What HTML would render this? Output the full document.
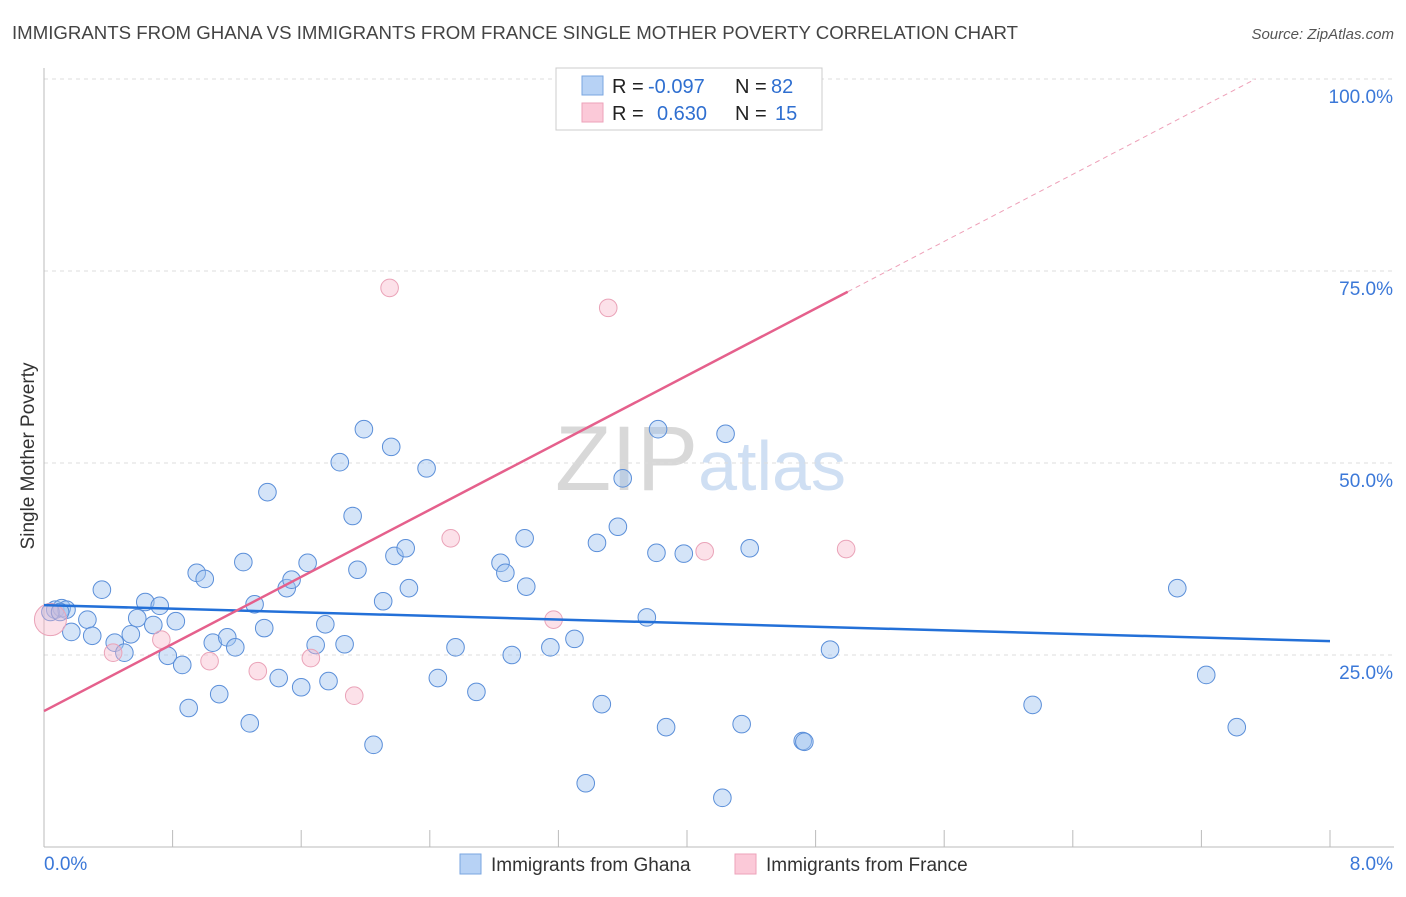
<!DOCTYPE html>
<html><head><meta charset="utf-8"><style>
body{margin:0;background:#fff;font-family:"Liberation Sans",sans-serif}
svg text{font-family:"Liberation Sans",sans-serif}
</style></head><body>
<svg id="c" width="1406" height="892" xmlns="http://www.w3.org/2000/svg">
<text x="12" y="39" font-size="18.5" fill="#444" textLength="1006" lengthAdjust="spacingAndGlyphs">IMMIGRANTS FROM GHANA VS IMMIGRANTS FROM FRANCE SINGLE MOTHER POVERTY CORRELATION CHART</text>
<text x="1394" y="39" font-size="15" fill="#555" font-style="italic" text-anchor="end">Source: ZipAtlas.com</text>
<text transform="translate(34,456) rotate(-90)" font-size="19" fill="#333" text-anchor="middle">Single Mother Poverty</text>
<text x="555" y="490" font-size="92" fill="#d8d8d8" font-family="Liberation Serif">ZIP<tspan fill="#cfdff3" font-family="Liberation Sans" font-size="70">atlas</tspan></text>
<g id="grid"></g><g id="pts"></g><g id="lines"></g>
<g>
<rect x="556" y="68" width="266" height="62" fill="#fff" stroke="#ccc"/>
<rect x="582" y="76" width="21" height="19" fill="#b7d2f5" stroke="#7aa6e0"/>
<rect x="582" y="103" width="21" height="19" fill="#fbc9d8" stroke="#eda2ba"/>
<text x="612" y="93" font-size="20" fill="#222">R = <tspan x="648" fill="#2f6fd0">-0.097</tspan><tspan x="735">N = </tspan><tspan x="771" fill="#2f6fd0">82</tspan></text>
<text x="612" y="120" font-size="20" fill="#222">R = <tspan x="657" fill="#2f6fd0">0.630</tspan><tspan x="735">N = </tspan><tspan x="775" fill="#2f6fd0">15</tspan></text>
</g>
<g>
<rect x="460" y="854" width="21" height="20" fill="#b7d2f5" stroke="#7aa6e0"/>
<text x="491" y="871" font-size="19" fill="#333">Immigrants from Ghana</text>
<rect x="735" y="854" width="21" height="20" fill="#fbc9d8" stroke="#eda2ba"/>
<text x="766" y="871" font-size="19" fill="#333">Immigrants from France</text>
</g>
</svg>
<script>
const xTicks=[0,0.8,1.6,2.4,3.2,4.0,4.8,5.6,6.4,7.2,8.0];
const yTicks=[25,50,75,100];
const yTickLabels=["25.0%","50.0%","75.0%","100.0%"];
const ghanaX=[0.07,0.11,0.14,0.17,0.27,0.30,0.36,0.44,0.50,0.54,0.58,0.63,0.68,0.72,0.77,0.82,0.86,0.90,0.95,1.00,1.05,1.09,1.14,1.19,1.24,1.28,1.31,1.37,1.39,1.46,1.51,1.54,1.60,1.64,1.69,1.75,1.77,1.84,1.87,1.92,1.95,1.99,2.05,2.11,2.16,2.18,2.25,2.27,2.38,2.45,2.56,2.69,2.84,2.87,2.91,2.99,3.00,3.15,3.30,3.37,3.44,3.47,3.57,3.60,3.75,3.81,3.82,3.87,3.98,4.22,4.24,4.34,4.39,4.72,4.73,4.89,6.15,7.05,7.23,7.42,0.04,0.10];
const ghanaY=[30.9,31.1,30.9,28.0,29.6,27.5,33.5,26.6,25.3,27.7,29.8,31.9,28.9,31.4,24.9,29.4,23.7,18.1,35.7,34.9,26.6,19.9,27.3,26.0,37.1,16.1,31.6,28.5,46.2,22.0,33.7,34.8,20.8,37.0,26.3,29.0,21.6,50.1,26.4,43.1,36.1,54.4,13.3,32.0,52.1,37.9,38.9,33.7,49.3,22.0,26.0,20.2,37.0,35.7,25.0,40.2,33.9,26.0,27.1,8.3,39.6,18.6,41.7,48.0,29.9,38.3,54.4,15.6,38.2,6.4,53.8,16.0,38.9,13.8,13.7,25.7,18.5,33.7,22.4,15.6,30.6,30.6];
const franceX=[0.04,0.43,0.73,1.03,1.33,1.66,1.93,2.15,2.53,3.17,3.51,4.11,4.99,4.33,4.54];
const franceY=[29.6,25.3,27.0,24.2,22.9,24.6,19.7,72.8,40.2,29.6,70.2,38.5,38.8,99.9,99.9];
const ghanaTrend=[31.5,26.8];
const franceTrend=[17.7,72.3];
const NS="http://www.w3.org/2000/svg";
const X0=44,X1=1330,Y0=847,YS=7.68;
const sx=v=>X0+v*(X1-X0)/8, sy=v=>Y0-v*YS;
function mk(tag,attrs,parent){const e=document.createElementNS(NS,tag);for(const k in attrs)e.setAttribute(k,attrs[k]);parent.appendChild(e);return e;}
const grid=document.getElementById('grid'),pts=document.getElementById('pts'),lines=document.getElementById('lines');
yTicks.forEach((t,i)=>{
 const l=mk('line',{x1:X0,x2:1394,y1:sy(t),y2:sy(t),stroke:'#ddd','stroke-dasharray':'4,4'},grid);
 
 
 const tx=mk('text',{x:1393,y:sy(t)+24,'font-size':19,fill:'#3b78d8','text-anchor':'end'},grid);
 tx.textContent=yTickLabels[i];
 
 
});
const ax=mk('line',{x1:X0,x2:1394,y1:Y0,y2:Y0,stroke:'#bbb'},grid);


const ay=mk('line',{x1:X0,x2:X0,y1:68,y2:Y0,stroke:'#bbb'},grid);


xTicks.forEach(t=>{
 const l=mk('line',{x1:sx(t),x2:sx(t),y1:830,y2:Y0,stroke:'#bbb'},grid);
 
 
});
[["0.0%",44,"start"],["8.0%",1393,"end"]].forEach(a=>{
 const tx=mk('text',{x:a[1],y:870,'font-size':19,fill:'#3b78d8','text-anchor':a[2]},grid);
 tx.textContent=a[0];
 
 
});
ghanaX.forEach((v,i)=>{
 const c=mk('circle',{cx:sx(v),cy:sy(ghanaY[i]),r:8.8,fill:'rgba(160,196,240,0.45)',stroke:'#5b8fd9','stroke-width':1},pts);
 
 
});
franceX.forEach((v,i)=>{
 const c=mk('circle',{cx:sx(v),cy:sy(franceY[i]),r:i==0?16:8.8,fill:'rgba(248,180,200,0.4)',stroke:'#eaa3b8','stroke-width':1},pts);
 
 
});
const bl=mk('line',{x1:sx(0),y1:sy(ghanaTrend[0]),x2:sx(8),y2:sy(ghanaTrend[1]),stroke:'#2370d8','stroke-width':2.5},lines);


const slope=(franceTrend[1]-franceTrend[0])/5;
const pl=mk('line',{x1:sx(0),y1:sy(franceTrend[0]),x2:sx(5),y2:sy(franceTrend[1]),stroke:'#e5608c','stroke-width':2.5},lines);


const xe=(100-franceTrend[0])/slope;
const pd=mk('line',{x1:sx(5),y1:sy(franceTrend[1]),x2:sx(xe),y2:sy(100),stroke:'#eea0b8','stroke-width':1,'stroke-dasharray':'5,4'},lines);


</script>
</body></html>
